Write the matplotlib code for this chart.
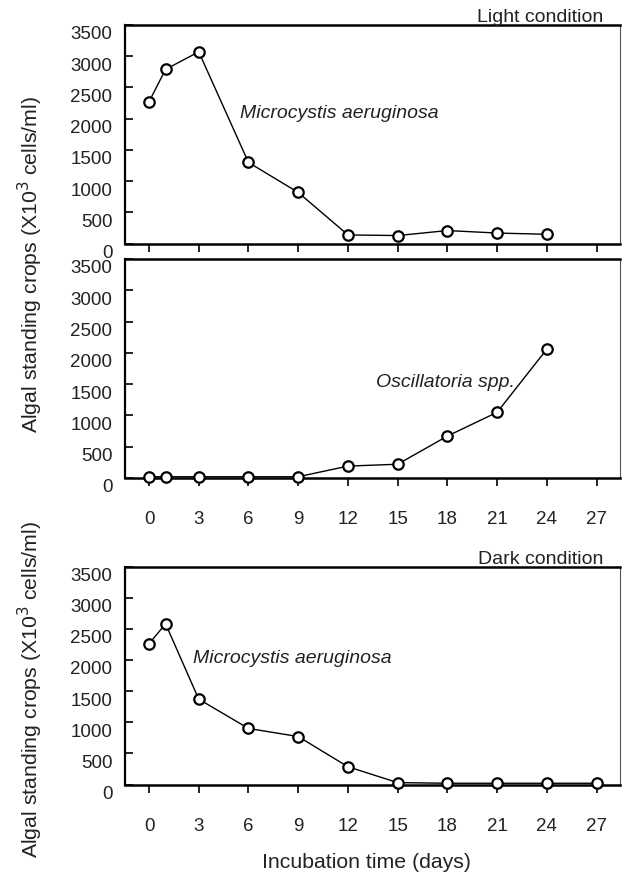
import matplotlib
matplotlib.use('Agg')
import matplotlib.pyplot as plt
import matplotlib.transforms as mtransforms

plt.rcParams['font.family'] = ['Liberation Sans', 'DejaVu Sans']

# algal standing crops, x10^3 cells/ml
days_light = [0, 1, 3, 6, 9, 12, 15, 18, 21, 24]
microcystis_light = [2270, 2790, 3070, 1300, 820, 140, 130, 210, 170, 150]
oscillatoria_light = [20, 20, 20, 20, 20, 190, 220, 670, 1050, 2060]

days_dark = [0, 1, 3, 6, 9, 12, 15, 18, 21, 24, 27]
microcystis_dark = [2260, 2580, 1370, 900, 770, 285, 30, 20, 20, 20, 20]

xticks = [0, 3, 6, 9, 12, 15, 18, 21, 24, 27]
yticks = [0, 500, 1000, 1500, 2000, 2500, 3000, 3500]

ylabel = 'Algal standing crops (X10$^3$ cells/ml)'
fs_tick = 13.5
fs_note = 14
fs_label = 15.3
txt = '#222222'

fig = plt.figure(figsize=(6.28, 8.74), dpi=100)
ax1 = fig.add_axes([0.199, 0.7212, 0.788, 0.2502])
ax2 = fig.add_axes([0.199, 0.4531, 0.788, 0.2506])
ax3 = fig.add_axes([0.199, 0.1024, 0.788, 0.2494])

# y tick labels sit a little below their ticks
drop = mtransforms.ScaledTranslation(0, -0.08, fig.dpi_scale_trans)


def setup(ax, show_xlabels):
    ax.set_xlim(-1.45, 28.4)
    ax.set_ylim(0, 3500)
    ax.set_xticks(xticks)
    ax.set_yticks(yticks)
    ax.set_yticklabels([str(v) for v in yticks], fontsize=fs_tick, color=txt)
    ax.tick_params(axis='y', direction='in', length=6, width=1.2, pad=9)
    if show_xlabels:
        ax.set_xticklabels([str(v) for v in xticks], fontsize=fs_tick, color=txt)
        ax.tick_params(axis='x', direction='out', length=6, width=1.2, pad=18)
    else:
        ax.set_xticklabels([])
        ax.tick_params(axis='x', direction='out', length=6, width=1.2)
    for lab in ax.get_yticklabels():
        lab.set_transform(lab.get_transform() + drop)
    ax.spines['top'].set_linewidth(1.8)
    ax.spines['bottom'].set_linewidth(1.8)
    ax.spines['left'].set_linewidth(1.6)
    ax.spines['right'].set_linewidth(0.8)
    ax.spines['right'].set_color('#555555')


def series(ax, x, y):
    ax.plot(x, y, color='black', lw=1.0, marker='o', ms=7.5, mfc='white',
            mec='black', mew=1.6, clip_on=False, zorder=3)


series(ax1, days_light, microcystis_light)
series(ax2, days_light, oscillatoria_light)
series(ax3, days_dark, microcystis_dark)

setup(ax1, False)
setup(ax2, True)
setup(ax3, True)

ax1.text(5.5, 2090, 'Microcystis aeruginosa', style='italic', fontsize=fs_note,
         color=txt, va='center')
ax2.text(13.7, 1530, 'Oscillatoria spp.', style='italic', fontsize=fs_note,
         color=txt, va='center')
ax3.text(2.65, 2020, 'Microcystis aeruginosa', style='italic', fontsize=fs_note,
         color=txt, va='center')

fig.text(0.960, 0.9805, 'Light condition', ha='right', va='center',
         fontsize=fs_note, color=txt)
fig.text(0.960, 0.3593, 'Dark condition', ha='right', va='center',
         fontsize=fs_note, color=txt)

fig.text(0.048, 0.6968, ylabel, rotation=90, ha='center', va='center',
         fontsize=fs_label, color=txt)
fig.text(0.048, 0.2105, ylabel, rotation=90, ha='center', va='center',
         fontsize=fs_label, color=txt)
fig.text(0.583, 0.0126, 'Incubation time (days)', ha='center', va='center',
         fontsize=fs_label, color=txt)

fig.savefig('out.png', dpi=100)
